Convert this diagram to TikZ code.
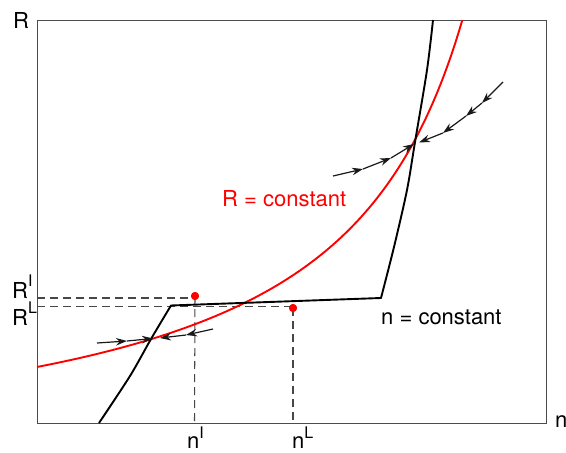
\documentclass[tikz,border=0pt]{standalone}
\usepackage{fontspec}
\setmainfont{TeX Gyre Heros}
\usetikzlibrary{arrows.meta}
\newcommand\supsc[2][12pt]{\raisebox{#1}{\fontsize{16}{16}\selectfont #2}}
\tikzset{
  lbl/.style={inner sep=0pt, anchor=base west, font=\fontsize{22}{26}\selectfont},
  frame/.style={draw=black!70, line width=0.9pt},
  curveblack/.style={draw=black, line width=1.9pt, line join=round},
  curvered/.style={draw=red, line width=1.9pt},
  guide/.style={draw=black!72, line width=1.05pt, dash pattern=on 8pt off 5pt},
  marker/.style={fill=red, draw=none, circle, minimum size=8pt, inner sep=0pt},
  flow/.style={draw=black!90, line width=1.2pt, -{Stealth[length=11pt,width=7.5pt]}},
}
\begin{document}
\begin{tikzpicture}[x=1pt,y=-1pt]
\useasboundingbox (0,0) rectangle (566,453);
% frame
\coordinate (tl) at (37,20);
\coordinate (br) at (546,423);
\draw[frame] (tl) rectangle (br);
% axis labels
\node[lbl] (ylab) at (13,28) {R};
\node[lbl] (xlab) at (555,427) {n};
% dashed guides
\coordinate (rI) at (37,298);
\coordinate (rL) at (37,306.5);
\coordinate (nI) at (194.5,423);
\coordinate (nL) at (293,423);
\node[marker] (dotI) at (195,296) {};
\node[marker] (dotL) at (293,308) {};
\draw[guide] (rI) -- (dotI.center |- rI);
\draw[guide] (rL) -- (dotL.center |- rL);
\draw[guide] (dotI.center) -- (nI);
\draw[guide] (dotL.center) -- (nL);
% red curve R = constant
\draw[curvered] plot[domain=37:462.3, samples=120, variable=\t] (\t, {475.2 - 603.9/(5.95 - \t/100)});
% black curve n = constant
\draw[curveblack] plot[smooth, tension=0.5] coordinates {(99,423) (130,376) (151,339) (171,305.5)} -- (381,298) -- plot[smooth, tension=0.5] coordinates {(381,298) (394,247) (407,190) (415,142) (427,70) (433,20)};
% redraw dots on top
\node[marker] at (dotI) {};
\node[marker] at (dotL) {};
% flow arrows, lower equilibrium
\coordinate (a1) at (97,343);
\coordinate (a2) at (127,341);
\coordinate (a3) at (153,338.5);
\coordinate (b1) at (213,329);
\coordinate (b2) at (186,335);
\coordinate (b3) at (160,338);
\draw[flow] (a1) -- (a2);
\draw[flow] (a2) -- (a3);
\draw[flow] (b1) -- (b2);
\draw[flow] (b2) -- (b3);
% flow arrows, upper equilibrium
\coordinate (c1) at (333,176);
\coordinate (c2) at (363,169);
\coordinate (c3) at (391,158);
\coordinate (c4) at (414,144);
\coordinate (d1) at (503,82);
\coordinate (d2) at (482,103);
\coordinate (d3) at (466,116);
\coordinate (d4) at (443,133);
\coordinate (d5) at (419,142.5);
\draw[flow] (c1) -- (c2);
\draw[flow] (c2) -- (c3);
\draw[flow] (c3) -- (c4);
\draw[flow] (d1) -- (d2);
\draw[flow] (d2) -- (d3);
\draw[flow] (d3) -- (d4);
\draw[flow] (d4) -- (d5);
% curve labels
\node[lbl, text=red] (rconst) at (222,206) {R = constant};
\node[lbl] (nconst) at (381,324) {n = constant};
% tick labels
\node[lbl] (RIlab) at (12,298) {R\supsc{I}};
\node[lbl] (RLlab) at (12,325) {R\supsc{L}};
\node[lbl] (nIlab) at (187,448) {n\supsc[10pt]{I}};
\node[lbl] (nLlab) at (292,448) {n\supsc[10pt]{L}};
\end{tikzpicture}
\end{document}
